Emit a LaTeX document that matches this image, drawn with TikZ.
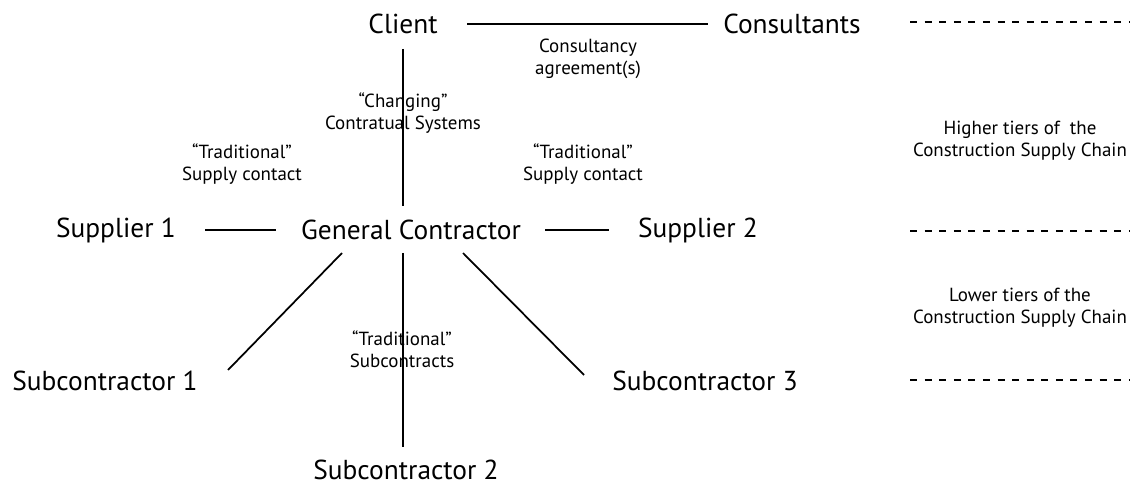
\documentclass[tikz,border=0pt]{standalone}
\usepackage{fontspec}
\setmainfont{PT Sans}
\usetikzlibrary{positioning,calc}

\tikzset{
    party/.style={inner sep=0pt, font=\fontsize{15.6}{18}\selectfont},
    note/.style={inner sep=0pt, align=center, font=\fontsize{10.8}{12.6}\selectfont},
    link/.style={line width=1pt},
    tierline/.style={line width=0.8pt, dash pattern=on 4pt off 4.3pt}
}

\begin{document}
\begin{tikzpicture}[x=0.02cm, y=-0.02cm]
    \useasboundingbox (0,0) rectangle (1133,486);

    % Parties
    \node[party] (client) at (403,24) {Client};
    \node[party] (consultants) at (792,24) {Consultants};
    \node[party] (gc) at (411,230) {General Contractor};
    \node[party] (sup1) at (116,230) {Supplier 1};
    \node[party] (sup2) at (698,230) {Supplier 2};
    \node[party] (sub1) at (105,381) {Subcontractor 1};
    \node[party] (sub2) at (406,470) {Subcontractor 2};
    \node[party] (sub3) at (705,381) {Subcontractor 3};

    % Contract links
    \draw[link] ([shift={(64,0)}]client.center) -- ([shift={(-84,0)}]consultants.center);
    \draw[link] ([shift={(0,25)}]client.center) -- ([shift={(-8,-24)}]gc.center);
    \draw[link] ([shift={(89,0)}]sup1.center) -- ([shift={(-135,0)}]gc.center);
    \draw[link] ([shift={(134,0)}]gc.center) -- ([shift={(-89,0)}]sup2.center);
    \draw[link] ([shift={(-69,23)}]gc.center) -- ([shift={(123,-11)}]sub1.center);
    \draw[link] ([shift={(-8,23)}]gc.center) -- ([shift={(-3,-23)}]sub2.center);
    \draw[link] ([shift={(52,23)}]gc.center) -- ([shift={(-121,-6)}]sub3.center);

    % Link labels
    \node[note] (agree) at (588,59) {Consultancy\\agreement(s)};
    \node[note] (changing) at (403,113) {``Changing''\\Contratual Systems};
    \node[note] (tradl) at (242,164) {``Traditional''\\Supply contact};
    \node[note] (tradr) at (583,164) {``Traditional''\\Supply contact};
    \node[note] (tradsub) at (402,349) {``Traditional''\\Subcontracts};

    % Tiers
    \foreach \y in {22,231,380}
        \draw[tierline] (910,\y) -- (1130,\y);
    \node[note] (higher) at (1020,141) {Higher tiers of~ the\\Construction Supply Chain};
    \node[note] (lower) at (1020,308) {Lower tiers of the\\Construction Supply Chain};
\end{tikzpicture}
\end{document}
